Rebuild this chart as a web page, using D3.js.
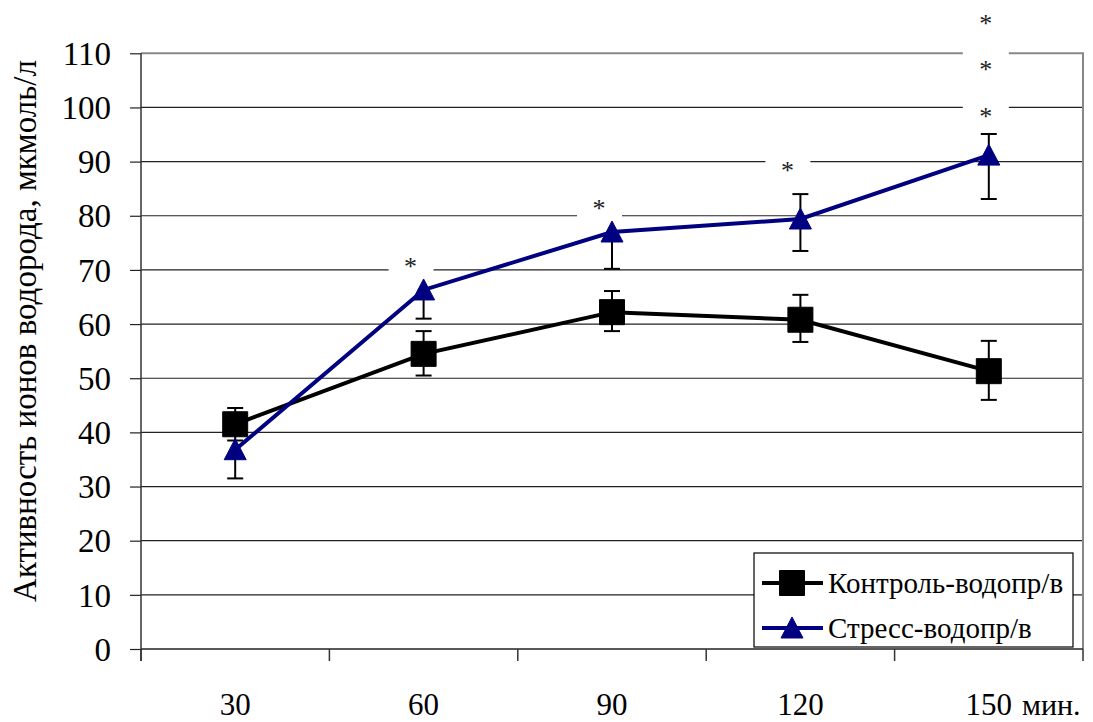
<!DOCTYPE html>
<html><head><meta charset="utf-8">
<script src="https://cdn.jsdelivr.net/npm/d3@7"></script>
<style>body{margin:0;background:#fff}</style>
</head><body><svg id="c" width="1093" height="722"></svg>
<script>
const categories = ["30","60","90","120","150"];
const controlValues = [41.5, 54.5, 62.2, 60.8, 51.3];
const controlErrUp = [3.0, 4.2, 3.9, 4.6, 5.6];
const controlErrDown = [3.0, 4.0, 3.5, 4.1, 5.3];
const stressValues = [36.8, 66.3, 77.0, 79.4, 91.2];
const stressErrUp = [0, 0, 0, 4.6, 3.9];
const stressErrDown = [5.3, 5.3, 6.8, 5.9, 8.1];
const stressMarks = ["", "*", "*", "*", "*\n*\n*"];
const yTicks = [0,10,20,30,40,50,60,70,80,90,100,110];
const seriesNames = ["Контроль-водопр/в", "Стресс-водопр/в"];
const yTitle = "Активность ионов водорода, мкмоль/л";
const xUnit = "мин.";

const FONT = "'Liberation Serif','Times New Roman',serif";
const svg = d3.select("#c");
const L = 141, R = 1083, T = 53.3, B = 649;
const x = d3.scaleBand().domain(categories).range([L, R]);
const y = d3.scaleLinear().domain([0, 110]).range([B, T]);
const cx = d => x(d) + x.bandwidth()/2;

// gridlines
svg.append("g").selectAll("line").data(yTicks.filter(t=>t>0 && t<110)).join("line")
  .attr("x1", L).attr("x2", R).attr("y1", d=>y(d)).attr("y2", d=>y(d))
  .attr("stroke", "#222").attr("stroke-width", 1.2);
svg.append("path").attr("d", `M${L},${y(110)}H${R}V${B}`).attr("fill","none").attr("stroke","#888").attr("stroke-width",2);

// y axis
const yAxis = d3.axisLeft(y).tickValues(yTicks).tickSize(11).tickPadding(19);
const gy = svg.append("g").attr("transform", `translate(${L},0)`).call(yAxis).attr("font-family", null);
gy.select(".domain").attr("stroke","#333").attr("stroke-width",1.5).attr("d", `M0,${y(110)}V${B+12}`);
gy.selectAll(".tick line").attr("stroke","#222").attr("stroke-width",1.2);
gy.selectAll("text").attr("font-size", 33).attr("fill","#000").attr("dy","0.34em").style("font-family", FONT);

// x axis
const xAxis = d3.axisBottom(x).tickSize(0).tickPadding(44);
const gx = svg.append("g").attr("transform", `translate(0,${B})`).call(xAxis).attr("font-family", null);
gx.select(".domain").attr("stroke","#222").attr("stroke-width",1.5).attr("d", `M${L},0H${R}`);
gx.selectAll("text").attr("font-size", 31).attr("fill","#000").attr("dy", null).attr("y", 66).style("font-family", FONT);
svg.append("g").selectAll("line").data(categories.concat(["end"])).join("line")
  .attr("x1", (d,i)=> L + i*x.bandwidth()).attr("x2", (d,i)=> L + i*x.bandwidth())
  .attr("y1", B).attr("y2", B+12).attr("stroke","#333").attr("stroke-width",1.5);
svg.append("text").attr("x", 1022).attr("y", 715).attr("font-size", 30).style("font-family", FONT).text(xUnit);

// y title
svg.append("text").attr("transform", `translate(36,${331}) rotate(-90)`)
  .attr("text-anchor","middle").attr("font-size", 33).style("font-family", FONT).text(yTitle);

// asterisk labels with white background
const markG = svg.append("g");
categories.forEach((c,i)=>{
  const m = stressMarks[i];
  if(!m) return;
  const lines = m.split("\n");
  const topVal = stressValues[i] + stressErrUp[i];
  const lh = 46.5;
  if(lines.length === 1){
    const yc = y(topVal) - 27;
    const xc = cx(c) - 13;
    markG.append("rect").attr("x", xc - 22).attr("y", yc - 20).attr("width", 45).attr("height", 40).attr("fill","#fff");
    markG.append("text").attr("x", xc).attr("y", yc + 12).attr("text-anchor","middle")
      .attr("font-size", 26).attr("fill","#222").style("font-family", FONT).text(lines[0]);
  } else {
    const xc = cx(c) - 3;
    const yLast = y(topVal) - 21;
    markG.append("rect").attr("x", xc - 23).attr("y", 0).attr("width", 46).attr("height", yLast + 18).attr("fill","#fff");
    lines.forEach((s,k)=>{
      markG.append("text").attr("x", xc).attr("y", yLast - (lines.length-1-k)*lh + 12)
        .attr("text-anchor","middle").attr("font-size", 26).attr("fill","#222").style("font-family", FONT).text(s);
    });
  }
});

function drawSeries(vals, up, down, color, marker){
  const g = svg.append("g");
  g.append("path").datum(vals).attr("fill","none").attr("stroke", color).attr("stroke-width", 4)
    .attr("d", d3.line().x((d,i)=>cx(categories[i])).y(d=>y(d)));
  vals.forEach((v,i)=>{
    const px = cx(categories[i]);
    const pts = [];
    if(up[i]>0) pts.push(v+up[i]);
    if(down[i]>0) pts.push(v-down[i]);
    pts.forEach(e=>{
      g.append("line").attr("x1",px).attr("x2",px).attr("y1",y(v)).attr("y2",y(e)).attr("stroke","#000").attr("stroke-width",2);
      g.append("line").attr("x1",px-8).attr("x2",px+8).attr("y1",y(e)).attr("y2",y(e)).attr("stroke","#000").attr("stroke-width",2);
    });
  });
  g.selectAll(".m").data(vals).join("path")
    .attr("transform",(d,i)=>`translate(${cx(categories[i])},${y(d)})`)
    .attr("d", marker).attr("fill", color).attr("stroke", color).attr("stroke-width",1);
}
const sq = "M-12.5,-12.5H12.5V12.5H-12.5Z";
const tri = "M0,-11L11,10H-11Z";
drawSeries(controlValues, controlErrUp, controlErrDown, "#000", sq);
drawSeries(stressValues, stressErrUp, stressErrDown, "#000080", tri);

// legend
const lg = svg.append("g");
lg.append("rect").attr("x",754).attr("y",553).attr("width",319).attr("height",94).attr("fill","#fff").attr("stroke","#000").attr("stroke-width",1.2);
[[seriesNames[0],"#000",sq,583],[seriesNames[1],"#000080",tri,628]].forEach(([n,c,m,yy])=>{
  lg.append("line").attr("x1",762).attr("x2",823).attr("y1",yy).attr("y2",yy).attr("stroke",c).attr("stroke-width",4);
  lg.append("path").attr("transform",`translate(792,${yy})`).attr("d",m).attr("fill",c).attr("stroke",c);
  lg.append("text").attr("x",828).attr("y",yy+10).attr("font-size",29).style("font-family", FONT).text(n);
});
</script></body></html>
